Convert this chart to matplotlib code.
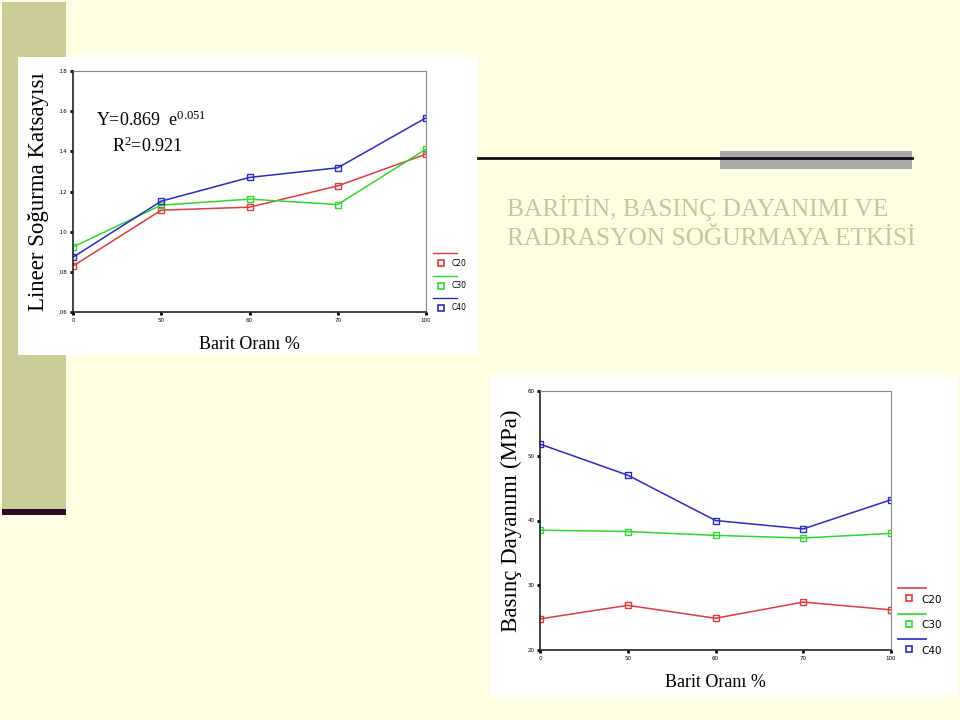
import matplotlib.pyplot as plt
from matplotlib.patches import Rectangle
from matplotlib.lines import Line2D

plt.rcParams['mathtext.fontset'] = 'custom'
plt.rcParams['mathtext.rm'] = 'Liberation Serif'
plt.rcParams['mathtext.it'] = 'Liberation Serif'

# data
x_labels = ['0', '50', '60', '70', '100']
series_names = ['C20', 'C30', 'C40']
series_colors = ['#e03a3a', '#2ed82e', '#2a2ac8']

# Lineer Soğurma Katsayısı
sog_c20 = [0.0829, 0.1107, 0.1122, 0.1228, 0.1386]
sog_c30 = [0.0924, 0.1132, 0.1162, 0.1135, 0.1411]
sog_c40 = [0.0873, 0.1152, 0.1270, 0.1318, 0.1567]
sog_ticks = [0.06, 0.08, 0.10, 0.12, 0.14, 0.16, 0.18]

# Basınç Dayanımı (MPa)
bas_c20 = [24.8, 26.9, 24.9, 27.4, 26.2]
bas_c30 = [38.5, 38.3, 37.7, 37.3, 38.0]
bas_c40 = [51.8, 47.0, 40.0, 38.7, 43.2]
bas_ticks = [20, 30, 40, 50, 60]

W, H = 960, 720
BG = '#fefee2'
OLIVE = '#cccc99'


def box(x0, y0, x1, y1):
    # pixel box (top-left origin) -> figure fraction rect
    return [x0 / W, 1 - y1 / H, (x1 - x0) / W, (y1 - y0) / H]


def rect(x0, y0, x1, y1, color, z=0):
    l, b, w, h = box(x0, y0, x1, y1)
    fig.patches.append(Rectangle((l, b), w, h, transform=fig.transFigure,
                                 facecolor=color, edgecolor='none', zorder=z))


def fig_line(x0, x1, y, color, lw):
    fig.add_artist(Line2D([x0 / W, x1 / W], [1 - y / H, 1 - y / H],
                          transform=fig.transFigure, color=color, lw=lw, zorder=5))


def fig_marker(x, y, color):
    fig.add_artist(Line2D([x / W], [1 - y / H], transform=fig.transFigure,
                          marker='s', ms=4.5, mfc='none', mec=color, mew=1.2, ls='none', zorder=5))


def draw_chart(ax, series, ticks, ylabel, ytick_fmt, ylabel_pad):
    ax.set_zorder(3)
    ax.set_facecolor('white')
    xs = range(len(x_labels))
    for vals, c in zip(series, series_colors):
        ax.plot(xs, vals, color=c, lw=1.1, marker='s', ms=5, mfc='none', mec=c, mew=1.0)
    ax.set_xlim(0, len(x_labels) - 1)
    ax.set_ylim(ticks[0], ticks[-1])
    ax.set_xticks(list(xs))
    ax.set_xticklabels(x_labels)
    ax.set_yticks(ticks)
    ax.set_yticklabels([ytick_fmt(t) for t in ticks])
    ax.tick_params(direction='out', length=2, width=2, labelsize=4, pad=2)
    for s in ['top', 'right']:
        ax.spines[s].set_color('#8a8a8a')
    for s in ['left', 'bottom']:
        ax.spines[s].set_color('#222222')
        ax.spines[s].set_linewidth(1.2)
    ax.set_ylabel(ylabel, family='Liberation Serif', fontsize=16.5, labelpad=ylabel_pad)
    ax.set_xlabel('Barit Oranı %', family='Liberation Serif', fontsize=13, labelpad=10)


fig = plt.figure(figsize=(9.6, 7.2), dpi=100, facecolor=BG)

# slide decoration
rect(2, 2, 66, 512, OLIVE)
rect(2, 509, 66, 515, '#2b0a2b', z=1)
rect(18, 57, 478, 355, 'white', z=1)
rect(490, 377, 958, 695, 'white', z=1)
rect(720, 151, 912, 169, '#a8a8a8', z=1)
fig_line(478, 912, 157.5, '#1a0a1a', 2.0)

fig.text(507 / W, 1 - 208 / H, 'BARİTİN, BASINÇ DAYANIMI VE',
         family='Liberation Serif', fontsize=18.3, color='#c6c69c', va='center')
fig.text(507 / W, 1 - 239 / H, 'RADRASYON SOĞURMAYA ETKİSİ',
         family='Liberation Serif', fontsize=18.3, color='#c6c69c', va='center')

# top chart
ax1 = fig.add_axes(box(73, 71, 426, 312))
draw_chart(ax1, [sog_c20, sog_c30, sog_c40], sog_ticks,
           'Lineer Soğurma Katsayısı', lambda t: ('%.2f' % t)[1:], 7)
ax1.text(0.065, 0.77, r'Y=0.869  e$^{0.051}$', transform=ax1.transAxes,
         family='Liberation Serif', fontsize=13)
ax1.text(0.11, 0.665, r'R$^{2}$=0.921', transform=ax1.transAxes,
         family='Liberation Serif', fontsize=13)

# bottom chart
ax2 = fig.add_axes(box(540, 391, 891, 650))
draw_chart(ax2, [bas_c20, bas_c30, bas_c40], bas_ticks,
           'Basınç Dayanımı (MPa)', lambda t: '%d' % t, 4)

# legends (line above a square marker, as in the source)
for i, (name, c) in enumerate(zip(series_names, series_colors)):
    y = 253 + i * 22.5
    fig_line(433, 457, y, c, 1.0)
    fig_marker(441, y + 10, c)
    fig.text(452 / W, 1 - (y + 10) / H, name, fontsize=5.5, va='center', zorder=5)

    y = 588 + i * 25.5
    fig_line(898, 926, y, c, 1.2)
    fig_marker(909, y + 10, c)
    fig.text(921 / W, 1 - (y + 12) / H, name, fontsize=7.5, va='center', zorder=5)

fig.savefig('out.png', dpi=100, facecolor=BG)
